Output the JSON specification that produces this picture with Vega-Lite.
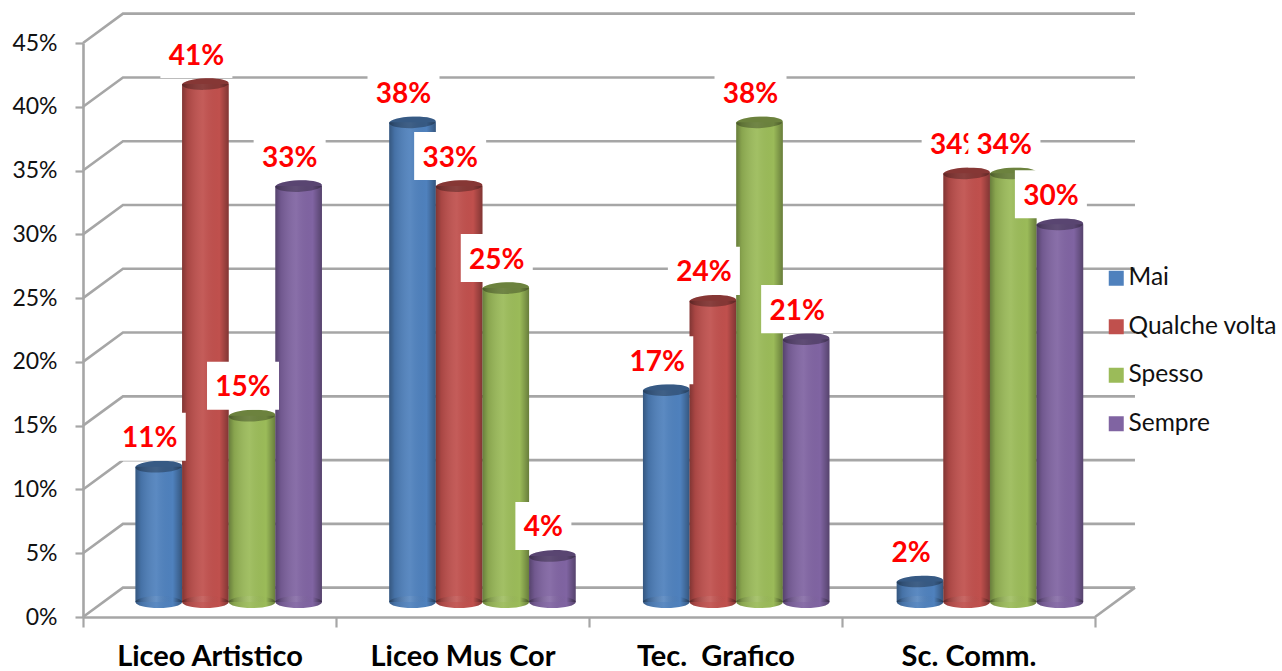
{"$schema":"https://vega.github.io/schema/vega-lite/v6.json","width":1012,"height":574,"autosize":"none","padding":{"left":83,"top":43,"right":187,"bottom":54},"background":"white","config":{"view":{"stroke":null}},"datasets":{"rows":[{"group":"Liceo Artistico","series":"Mai","value":11,"label":"11%"},{"group":"Liceo Artistico","series":"Qualche volta","value":41,"label":"41%"},{"group":"Liceo Artistico","series":"Spesso","value":15,"label":"15%"},{"group":"Liceo Artistico","series":"Sempre","value":33,"label":"33%"},{"group":"Liceo Mus Cor","series":"Mai","value":38,"label":"38%"},{"group":"Liceo Mus Cor","series":"Qualche volta","value":33,"label":"33%"},{"group":"Liceo Mus Cor","series":"Spesso","value":25,"label":"25%"},{"group":"Liceo Mus Cor","series":"Sempre","value":4,"label":"4%"},{"group":"Tec. \u00a0Grafico","series":"Mai","value":17,"label":"17%"},{"group":"Tec. \u00a0Grafico","series":"Qualche volta","value":24,"label":"24%"},{"group":"Tec. \u00a0Grafico","series":"Spesso","value":38,"label":"38%"},{"group":"Tec. \u00a0Grafico","series":"Sempre","value":21,"label":"21%"},{"group":"Sc. Comm.","series":"Mai","value":2,"label":"2%"},{"group":"Sc. Comm.","series":"Qualche volta","value":34,"label":"34%"},{"group":"Sc. Comm.","series":"Spesso","value":34,"label":"34%"},{"group":"Sc. Comm.","series":"Sempre","value":30,"label":"30%"}],"wall":[{"level":"floor","a":4,"b":0},{"level":"floor","a":4.158,"b":2.3},{"level":"0","a":0,"b":0},{"level":"0","a":0.158,"b":2.3},{"level":"0","a":4.158,"b":2.3},{"level":"5","a":0,"b":5},{"level":"5","a":0.158,"b":7.3},{"level":"5","a":4.158,"b":7.3},{"level":"10","a":0,"b":10},{"level":"10","a":0.158,"b":12.3},{"level":"10","a":4.158,"b":12.3},{"level":"15","a":0,"b":15},{"level":"15","a":0.158,"b":17.3},{"level":"15","a":4.158,"b":17.3},{"level":"20","a":0,"b":20},{"level":"20","a":0.158,"b":22.3},{"level":"20","a":4.158,"b":22.3},{"level":"25","a":0,"b":25},{"level":"25","a":0.158,"b":27.3},{"level":"25","a":4.158,"b":27.3},{"level":"30","a":0,"b":30},{"level":"30","a":0.158,"b":32.3},{"level":"30","a":4.158,"b":32.3},{"level":"35","a":0,"b":35},{"level":"35","a":0.158,"b":37.3},{"level":"35","a":4.158,"b":37.3},{"level":"40","a":0,"b":40},{"level":"40","a":0.158,"b":42.3},{"level":"40","a":4.158,"b":42.3},{"level":"45","a":0,"b":45},{"level":"45","a":0.158,"b":47.3},{"level":"45","a":4.158,"b":47.3}]},"resolve":{"scale":{"x":"independent"},"axis":{"x":"independent"}},"layer":[{"data":{"name":"rows"},"mark":{"type":"point","opacity":0},"encoding":{"x":{"field":"group","type":"nominal","scale":{"type":"band","domain":["Liceo Artistico","Liceo Mus Cor","Tec. \u00a0Grafico","Sc. Comm."],"paddingInner":0,"paddingOuter":0},"axis":{"title":null,"labelAngle":0,"labelFont":"Lato","labelFontWeight":"bold","labelFontSize":29,"labelColor":"#000000","labelPadding":15,"labelLimit":300,"domainColor":"#a6a6a6","domainWidth":2.6,"tickColor":"#a6a6a6","tickWidth":2.2,"tickSize":10,"tickBand":"extent"}}}},{"data":{"name":"wall"},"mark":{"type":"line","color":"#a6a6a6","strokeWidth":2.6,"clip":false,"interpolate":"linear"},"encoding":{"x":{"field":"a","type":"quantitative","scale":{"domain":[0,4],"nice":false,"zero":false},"axis":null},"y":{"field":"b","type":"quantitative","scale":{"domain":[0,45],"nice":false},"axis":{"title":null,"values":[0,5,10,15,20,25,30,35,40,45],"labelExpr":"datum.value + '%'","grid":false,"domainColor":"#a6a6a6","domainWidth":2.6,"tickColor":"#a6a6a6","tickWidth":2.2,"tickSize":8,"labelFont":"Lato","labelFontSize":23,"labelColor":"#111111","labelPadding":18}},"detail":{"field":"level"},"order":{"field":"a","type":"quantitative"}}},{"data":{"name":"rows"},"encoding":{"x":{"field":"group","type":"nominal","scale":{"domain":["Liceo Artistico","Liceo Mus Cor","Tec. \u00a0Grafico","Sc. Comm."],"range":[0,1015],"paddingInner":0.265,"paddingOuter":0.1325,"align":0.78},"axis":null},"xOffset":{"field":"series","type":"nominal","scale":{"domain":["Mai","Qualche volta","Spesso","Sempre"],"paddingInner":0,"paddingOuter":0}},"y":{"field":"value","type":"quantitative","scale":{"domain":[0,45],"nice":false}},"color":{"field":"series","type":"nominal","scale":{"domain":["Mai","Qualche volta","Spesso","Sempre"],"range":["#4f81bd","#c0504d","#9bbb59","#8064a2"]},"legend":{"title":null,"orient":"none","legendX":1021,"legendY":223,"symbolType":"square","symbolSize":225,"symbolOpacity":1,"symbolStrokeWidth":0,"labelFont":"Lato","labelFontSize":24.5,"labelColor":"#111111","labelOffset":0,"rowPadding":23.5,"padding":0,"labelLimit":200}}},"layer":[{"mark":{"type":"bar","yOffset":-10,"y2Offset":-15},"encoding":{"y2":{"datum":0}}},{"mark":{"type":"point","filled":true,"opacity":1,"strokeWidth":0,"yOffset":-15,"size":2170,"shape":"M-1,0A1,0.26,0,1,0,1,0A1,0.26,0,1,0,-1,0Z"},"encoding":{"y":{"datum":0}}},{"mark":{"type":"point","filled":true,"opacity":1,"strokeWidth":0,"yOffset":-10,"size":2170,"shape":"M-1,0.03A1,0.25,-2,1,1,1,-0.03A1,0.25,-2,1,1,-1,0.03Z"}},{"mark":{"type":"bar","yOffset":-10,"y2Offset":-15},"encoding":{"y2":{"datum":0},"color":{"value":{"gradient":"linear","x1":0,"y1":0,"x2":1,"y2":0,"stops":[{"offset":0,"color":"rgba(0,0,0,0.33)"},{"offset":0.12,"color":"rgba(0,0,0,0.12)"},{"offset":0.45,"color":"rgba(255,255,255,0.07)"},{"offset":0.8,"color":"rgba(0,0,0,0)"},{"offset":1,"color":"rgba(0,0,0,0.33)"}]}}}},{"mark":{"type":"point","filled":true,"opacity":1,"strokeWidth":0,"yOffset":-15,"size":2170,"shape":"M-1,0A1,0.26,0,1,0,1,0A1,0.26,0,1,0,-1,0Z"},"encoding":{"y":{"datum":0},"color":{"value":{"gradient":"linear","x1":0,"y1":0,"x2":1,"y2":0,"stops":[{"offset":0,"color":"rgba(0,0,0,0.33)"},{"offset":0.12,"color":"rgba(0,0,0,0.12)"},{"offset":0.45,"color":"rgba(255,255,255,0.07)"},{"offset":0.8,"color":"rgba(0,0,0,0)"},{"offset":1,"color":"rgba(0,0,0,0.33)"}]}}}},{"mark":{"type":"point","filled":true,"opacity":0.3,"strokeWidth":0,"yOffset":-10,"size":2170,"shape":"M-1,0.03A1,0.25,-2,1,1,1,-0.03A1,0.25,-2,1,1,-1,0.03Z"},"encoding":{"color":{"value":"#000000"}}},{"transform":[{"filter":"datum.value >= 10"}],"mark":{"type":"point","filled":true,"opacity":1,"strokeWidth":0,"yOffset":-40,"size":5184,"shape":"M-1.25,-0.667H0.75V0.667H-1.25Z"},"encoding":{"color":{"value":"white"}}},{"transform":[{"filter":"datum.value < 10"}],"mark":{"type":"point","filled":true,"opacity":1,"strokeWidth":0,"yOffset":-40,"size":5184,"shape":"M-1.028,-0.667H0.528V0.667H-1.028Z"},"encoding":{"color":{"value":"white"}}},{"transform":[{"filter":"!(datum.group == 'Sc. Comm.' && datum.series == 'Spesso')"}],"mark":{"type":"text","font":"Lato","fontWeight":"bold","fontSize":28,"dx":-9,"yOffset":-37.5,"baseline":"middle","align":"center"},"encoding":{"color":{"value":"#ff0000"},"text":{"field":"label","type":"nominal"}}},{"transform":[{"filter":"datum.group == 'Sc. Comm.' && datum.series == 'Spesso'"}],"mark":{"type":"point","filled":true,"opacity":1,"strokeWidth":0,"yOffset":-40,"size":5184,"shape":"M-1.25,-0.667H0.75V0.667H-1.25Z"},"encoding":{"color":{"value":"white"}}},{"transform":[{"filter":"datum.group == 'Sc. Comm.' && datum.series == 'Spesso'"}],"mark":{"type":"text","font":"Lato","fontWeight":"bold","fontSize":28,"dx":-9,"yOffset":-37.5,"baseline":"middle","align":"center"},"encoding":{"color":{"value":"#ff0000"},"text":{"field":"label","type":"nominal"}}}]}]}
